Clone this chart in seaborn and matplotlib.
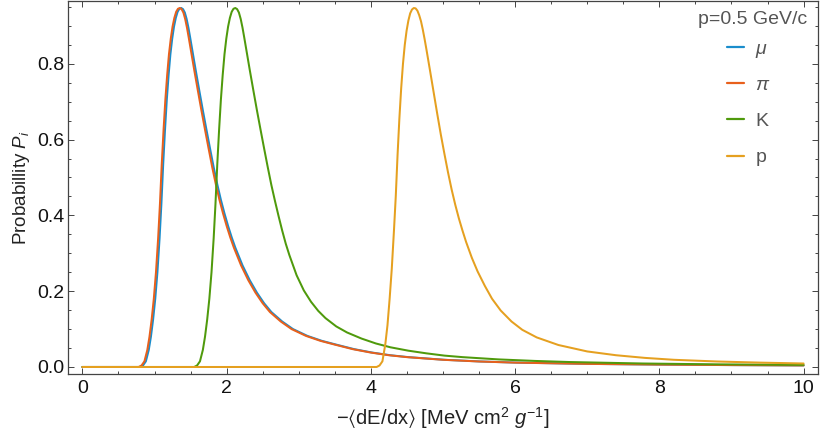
import matplotlib
matplotlib.use("Agg")
import matplotlib.pyplot as plt
import seaborn as sns
import pandas as pd
from matplotlib.ticker import MultipleLocator

# ---- data ----
pi_x = [0, 0.78, 0.82, 0.86, 0.90, 0.93, 0.96, 0.99, 1.02, 1.05, 1.075, 1.10, 1.125, 1.15, 1.175, 1.20,
        1.225, 1.25, 1.275, 1.30, 1.325, 1.35, 1.375, 1.40, 1.425, 1.45, 1.475, 1.50, 1.55, 1.60, 1.65, 1.70,
        1.75, 1.80, 1.85, 1.90, 1.95, 2.00, 2.05, 2.10, 2.20, 2.30, 2.40, 2.50, 2.60, 2.75, 2.90, 3.10,
        3.30, 3.50, 3.75, 4.00, 4.25, 4.50, 5.00, 5.50, 6.00, 7.00, 8.00, 9.00, 10.0]
pi_y = [0, 0, 0.004, 0.015, 0.045, 0.08, 0.125, 0.18, 0.25, 0.34, 0.43, 0.535, 0.625, 0.705, 0.77, 0.825,
        0.866, 0.898, 0.921, 0.937, 0.945, 0.947, 0.944, 0.935, 0.918, 0.895, 0.868, 0.84, 0.784, 0.73, 0.677, 0.626,
        0.576, 0.527, 0.482, 0.441, 0.405, 0.372, 0.342, 0.315, 0.268, 0.229, 0.196, 0.168, 0.145, 0.12, 0.1, 0.082,
        0.069, 0.059, 0.047, 0.038, 0.031, 0.026, 0.019, 0.0145, 0.0115, 0.0082, 0.0063, 0.005, 0.0041]

mu_x = [0, 0.80, 0.84, 0.88, 0.92, 0.95, 0.98, 1.01, 1.04, 1.07, 1.095, 1.12, 1.145, 1.17, 1.195, 1.22,
        1.245, 1.27, 1.295, 1.32, 1.345, 1.37, 1.395, 1.42, 1.445, 1.47, 1.495, 1.52, 1.57, 1.62, 1.67, 1.72,
        1.77, 1.82, 1.87, 1.92, 1.97, 2.02, 2.07, 2.12, 2.22, 2.32, 2.42, 2.52, 2.62, 2.77, 2.92, 3.12,
        3.32, 3.52, 3.77, 4.02, 4.27, 4.52, 5.02, 5.52, 6.02, 7.02, 8.02, 9.02, 10.0]
mu_y = [0, 0, 0.004, 0.015, 0.045, 0.08, 0.125, 0.18, 0.25, 0.34, 0.43, 0.535, 0.625, 0.705, 0.77, 0.825,
        0.866, 0.898, 0.921, 0.937, 0.945, 0.947, 0.944, 0.935, 0.918, 0.895, 0.868, 0.84, 0.784, 0.73, 0.677, 0.626,
        0.576, 0.527, 0.482, 0.441, 0.405, 0.372, 0.342, 0.315, 0.268, 0.229, 0.196, 0.168, 0.145, 0.12, 0.1, 0.082,
        0.069, 0.059, 0.047, 0.038, 0.031, 0.026, 0.019, 0.0145, 0.0115, 0.0082, 0.0063, 0.005, 0.0041]

k_x = [0, 1.55, 1.59, 1.63, 1.67, 1.70, 1.73, 1.76, 1.79, 1.82, 1.845, 1.87, 1.895, 1.92, 1.945, 1.97,
       1.995, 2.02, 2.045, 2.07, 2.095, 2.12, 2.145, 2.17, 2.195, 2.22, 2.245, 2.27, 2.32, 2.37, 2.42, 2.47,
       2.52, 2.57, 2.62, 2.67, 2.72, 2.77, 2.82, 2.87, 2.97, 3.07, 3.17, 3.27, 3.37, 3.52, 3.67, 3.87,
       4.07, 4.27, 4.52, 4.77, 5.02, 5.27, 5.77, 6.27, 6.77, 7.77, 8.77, 10.0]
k_y = [0, 0, 0.004, 0.015, 0.045, 0.08, 0.125, 0.18, 0.25, 0.34, 0.43, 0.535, 0.625, 0.705, 0.77, 0.825,
       0.866, 0.898, 0.921, 0.937, 0.945, 0.947, 0.944, 0.935, 0.918, 0.895, 0.868, 0.84, 0.784, 0.73, 0.677, 0.626,
       0.576, 0.527, 0.48, 0.438, 0.398, 0.36, 0.325, 0.295, 0.242, 0.202, 0.172, 0.148, 0.129, 0.107, 0.091, 0.075,
       0.062, 0.052, 0.043, 0.036, 0.030, 0.026, 0.020, 0.016, 0.013, 0.0092, 0.007, 0.0055]

p_x = [0, 4.08, 4.12, 4.16, 4.20, 4.23, 4.26, 4.29, 4.32, 4.345, 4.37, 4.395, 4.42, 4.445, 4.47, 4.495,
       4.52, 4.545, 4.57, 4.595, 4.62, 4.645, 4.67, 4.695, 4.72, 4.745, 4.77, 4.82, 4.87, 4.92, 4.97, 5.02,
       5.07, 5.12, 5.17, 5.22, 5.27, 5.32, 5.40, 5.48, 5.58, 5.68, 5.80, 5.95, 6.10, 6.30, 6.60, 7.00,
       7.40, 7.80, 8.20, 8.80, 9.40, 10.0]
p_y = [0, 0, 0.004, 0.015, 0.06, 0.11, 0.18, 0.26, 0.36, 0.45, 0.56, 0.655, 0.735, 0.80, 0.85, 0.887,
       0.914, 0.933, 0.943, 0.947, 0.946, 0.94, 0.928, 0.912, 0.89, 0.865, 0.838, 0.782, 0.725, 0.668, 0.613, 0.562,
       0.513, 0.468, 0.428, 0.392, 0.36, 0.33, 0.288, 0.252, 0.214, 0.18, 0.149, 0.12, 0.098, 0.078, 0.058, 0.041,
       0.031, 0.024, 0.019, 0.0145, 0.0115, 0.0092]

series_names = ["μ", "π", "K", "p"]
series_x = [mu_x, pi_x, k_x, p_x]
series_y = [mu_y, pi_y, k_y, p_y]
colors = ["#1a8dcc", "#e8601c", "#4f9a0c", "#e5a020"]
legend_title = "p=0.5 GeV/c"
x_ticks = [0, 2, 4, 6, 8, 10]
y_ticks = [0.0, 0.2, 0.4, 0.6, 0.8]

frames = []
for name, xs, ys in zip(series_names, series_x, series_y):
    frames.append(pd.DataFrame({"x": xs, "y": ys, "particle": name}))
df = pd.concat(frames, ignore_index=True)

sns.set_theme(style="ticks")
plt.rcParams["font.family"] = ["Liberation Sans", "DejaVu Sans"]
plt.rcParams["mathtext.fontset"] = "custom"
plt.rcParams["mathtext.rm"] = "Liberation Sans"
plt.rcParams["mathtext.it"] = "Liberation Sans:italic"
plt.rcParams["mathtext.fallback"] = "stixsans"

fig = plt.figure(figsize=(8.29, 4.41), dpi=100)
ax = fig.add_axes([68 / 829, 1 - 374 / 441, (818 - 68) / 829, (374 - 1) / 441])

palette = dict(zip(series_names, colors))
sns.lineplot(data=df, x="x", y="y", hue="particle", palette=palette, hue_order=series_names,
             ax=ax, linewidth=1.45, sort=False, estimator=None)

ax.set_xlim(-0.2, 10.2)
ax.set_ylim(-0.0185, 0.9655)
ax.set_xticks(x_ticks)
ax.set_yticks(y_ticks)
ax.set_xticklabels([str(t) for t in x_ticks])
ax.set_yticklabels([f"{t:.1f}" for t in y_ticks])
ax.xaxis.set_minor_locator(MultipleLocator(0.5))
ax.yaxis.set_minor_locator(MultipleLocator(0.05))

spine_col = "#444444"
for s in ax.spines.values():
    s.set_color(spine_col)
    s.set_linewidth(0.9)
ax.tick_params(which="both", direction="in", top=True, right=True, color=spine_col, width=0.7,
               labelsize=14, labelcolor="#111111")
ax.tick_params(which="major", length=4)
ax.tick_params(which="minor", length=2.3)
ax.tick_params(axis="x", pad=4.5)
ax.tick_params(axis="y", pad=2.5)

ax.set_xlabel(r"$-\langle$dE/dx$\rangle$ [MeV cm$^{2}$ $g^{-1}$]", fontsize=14.5, color="#222222", labelpad=6)
ax.set_ylabel("Probabillity $P_i$", fontsize=13.5, color="#222222", labelpad=4)

handles, labels = ax.get_legend_handles_labels()
leg = ax.legend(handles, labels, loc="upper left",
                bbox_to_anchor=(727 / 829, 1 - 40 / 441), bbox_transform=fig.transFigure,
                frameon=False, fontsize=14, handlelength=0.9,
                handletextpad=0.55, labelspacing=0.96, borderpad=0, borderaxespad=0)
for i, t in enumerate(leg.get_texts()):
    t.set_color("#555555")
    if i < 2:
        t.set_fontstyle("italic")
for h in leg.get_lines():
    h.set_linewidth(1.6)
fig.text(807 / 829, 1 - 19 / 441, legend_title, ha="right", va="center", fontsize=14, color="#555555")

fig.savefig("out.png", dpi=100)
